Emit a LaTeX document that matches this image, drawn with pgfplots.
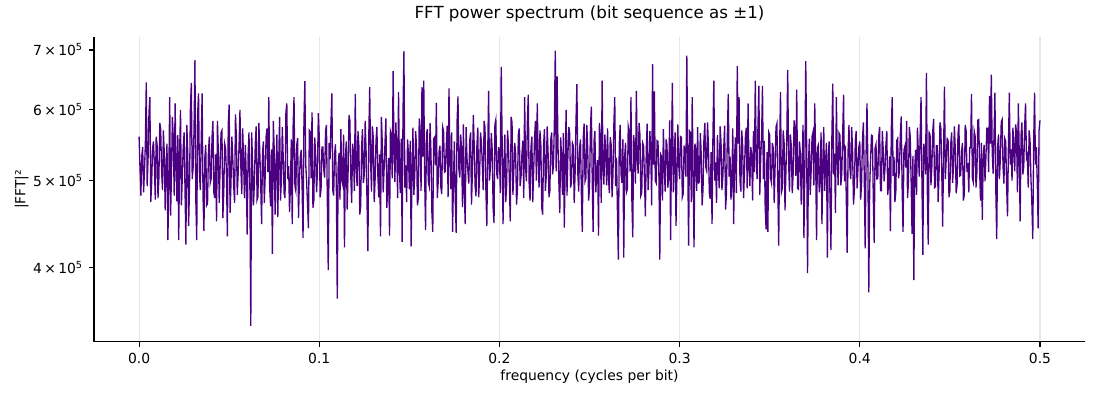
\documentclass[border=0pt]{standalone}
\usepackage{pgfplots}
\usepackage{pgfplotstable}
\pgfplotsset{compat=1.18}
\usepackage{fontspec}
\setmainfont{DejaVu Sans}
\definecolor{indigo}{HTML}{4B0082}
\definecolor{gridc}{HTML}{E6E6E6}
% |FFT|^2 in thousands, one value per bin (frequency = index/2000)
\pgfplotstableread[row sep=\\]{
p\\
560\\ 517\\ 481\\ 533\\ 545\\ 485\\ 512\\ 551\\ 644\\ 493\\ 530\\ 596\\ 620\\ 473\\ 498\\ 544\\ 553\\ 520\\ 476\\ 560\\
548\\ 478\\ 503\\ 580\\ 571\\ 512\\ 488\\ 569\\ 536\\ 463\\ 519\\ 550\\ 429\\ 500\\ 620\\ 457\\ 511\\ 589\\ 557\\ 481\\
610\\ 521\\ 474\\ 562\\ 429\\ 536\\ 600\\ 469\\ 505\\ 545\\ 566\\ 488\\ 424\\ 577\\ 539\\ 445\\ 492\\ 602\\ 643\\ 502\\
517\\ 569\\ 682\\ 475\\ 429\\ 593\\ 626\\ 508\\ 488\\ 556\\ 626\\ 479\\ 439\\ 530\\ 548\\ 469\\ 471\\ 538\\ 560\\ 497\\
502\\ 559\\ 583\\ 485\\ 478\\ 535\\ 450\\ 583\\ 537\\ 472\\ 519\\ 566\\ 569\\ 454\\ 485\\ 550\\ 544\\ 509\\ 433\\ 578\\
608\\ 460\\ 495\\ 560\\ 530\\ 494\\ 472\\ 593\\ 561\\ 482\\ 509\\ 547\\ 600\\ 517\\ 483\\ 572\\ 527\\ 478\\ 548\\ 506\\
435\\ 533\\ 566\\ 494\\ 344\\ 566\\ 521\\ 469\\ 497\\ 550\\ 575\\ 476\\ 480\\ 580\\ 538\\ 497\\ 447\\ 536\\ 553\\ 472\\
506\\ 560\\ 572\\ 511\\ 620\\ 490\\ 468\\ 542\\ 414\\ 583\\ 542\\ 458\\ 515\\ 563\\ 455\\ 524\\ 589\\ 475\\ 501\\ 574\\
532\\ 484\\ 478\\ 596\\ 610\\ 502\\ 519\\ 461\\ 493\\ 556\\ 447\\ 575\\ 620\\ 493\\ 487\\ 548\\ 558\\ 454\\ 502\\ 532\\
541\\ 490\\ 431\\ 580\\ 646\\ 521\\ 498\\ 470\\ 442\\ 569\\ 567\\ 503\\ 596\\ 466\\ 475\\ 559\\ 533\\ 485\\ 512\\ 595\\
560\\ 479\\ 489\\ 545\\ 545\\ 514\\ 504\\ 568\\ 577\\ 472\\ 397\\ 551\\ 528\\ 580\\ 626\\ 488\\ 481\\ 535\\ 549\\ 493\\
369\\ 520\\ 537\\ 476\\ 571\\ 500\\ 495\\ 563\\ 421\\ 529\\ 553\\ 464\\ 510\\ 592\\ 584\\ 506\\ 472\\ 550\\ 536\\ 487\\
625\\ 515\\ 493\\ 568\\ 547\\ 458\\ 468\\ 544\\ 571\\ 497\\ 508\\ 583\\ 539\\ 475\\ 417\\ 562\\ 636\\ 526\\ 486\\ 575\\
558\\ 473\\ 501\\ 554\\ 574\\ 508\\ 479\\ 535\\ 433\\ 589\\ 549\\ 485\\ 515\\ 551\\ 587\\ 466\\ 492\\ 530\\ 434\\ 568\\
563\\ 503\\ 663\\ 541\\ 498\\ 581\\ 541\\ 478\\ 628\\ 514\\ 484\\ 557\\ 427\\ 598\\ 698\\ 491\\ 520\\ 473\\ 556\\ 536\\
489\\ 554\\ 422\\ 515\\ 573\\ 482\\ 506\\ 568\\ 545\\ 469\\ 478\\ 587\\ 562\\ 487\\ 636\\ 532\\ 647\\ 505\\ 440\\ 563\\
571\\ 499\\ 493\\ 580\\ 538\\ 461\\ 438\\ 557\\ 559\\ 520\\ 611\\ 478\\ 497\\ 539\\ 547\\ 491\\ 483\\ 574\\ 568\\ 511\\
512\\ 547\\ 576\\ 479\\ 634\\ 530\\ 489\\ 566\\ 438\\ 502\\ 553\\ 475\\ 437\\ 583\\ 621\\ 515\\ 504\\ 563\\ 541\\ 467\\
578\\ 488\\ 447\\ 574\\ 530\\ 512\\ 496\\ 554\\ 566\\ 470\\ 511\\ 592\\ 549\\ 493\\ 480\\ 547\\ 573\\ 479\\ 507\\ 566\\
552\\ 521\\ 488\\ 583\\ 574\\ 487\\ 445\\ 536\\ 630\\ 500\\ 518\\ 565\\ 541\\ 466\\ 448\\ 578\\ 585\\ 509\\ 502\\ 545\\
537\\ 484\\ 670\\ 556\\ 447\\ 520\\ 563\\ 473\\ 494\\ 569\\ 548\\ 502\\ 450\\ 589\\ 581\\ 482\\ 515\\ 551\\ 536\\ 470\\
489\\ 563\\ 572\\ 493\\ 505\\ 536\\ 554\\ 478\\ 620\\ 517\\ 499\\ 581\\ 624\\ 496\\ 475\\ 545\\ 560\\ 473\\ 512\\ 559\\
583\\ 500\\ 610\\ 529\\ 491\\ 569\\ 547\\ 466\\ 458\\ 548\\ 571\\ 487\\ 506\\ 575\\ 538\\ 479\\ 487\\ 556\\ 566\\ 508\\
520\\ 581\\ 699\\ 512\\ 654\\ 547\\ 497\\ 460\\ 559\\ 530\\ 482\\ 565\\ 443\\ 517\\ 600\\ 481\\ 532\\ 574\\ 565\\ 491\\
498\\ 551\\ 547\\ 472\\ 509\\ 583\\ 641\\ 509\\ 486\\ 544\\ 556\\ 482\\ 438\\ 557\\ 579\\ 499\\ 503\\ 577\\ 544\\ 475\\
491\\ 569\\ 605\\ 503\\ 438\\ 553\\ 568\\ 485\\ 512\\ 527\\ 434\\ 580\\ 560\\ 472\\ 647\\ 515\\ 495\\ 563\\ 538\\ 494\\
572\\ 505\\ 484\\ 559\\ 549\\ 479\\ 506\\ 577\\ 620\\ 493\\ 530\\ 461\\ 408\\ 548\\ 577\\ 508\\ 497\\ 556\\ 410\\ 532\\
551\\ 485\\ 489\\ 575\\ 568\\ 512\\ 620\\ 476\\ 432\\ 562\\ 543\\ 496\\ 630\\ 529\\ 509\\ 580\\ 562\\ 481\\ 485\\ 551\\
547\\ 502\\ 456\\ 542\\ 579\\ 488\\ 513\\ 568\\ 538\\ 469\\ 675\\ 521\\ 629\\ 500\\ 497\\ 554\\ 553\\ 508\\ 408\\ 535\\
532\\ 475\\ 571\\ 514\\ 486\\ 556\\ 548\\ 491\\ 510\\ 584\\ 429\\ 541\\ 643\\ 485\\ 525\\ 566\\ 445\\ 503\\ 578\\ 521\\
502\\ 560\\ 559\\ 479\\ 483\\ 547\\ 537\\ 505\\ 690\\ 530\\ 423\\ 568\\ 566\\ 473\\ 620\\ 509\\ 421\\ 550\\ 541\\ 487\\
574\\ 497\\ 498\\ 565\\ 535\\ 469\\ 489\\ 556\\ 580\\ 518\\ 513\\ 581\\ 547\\ 484\\ 477\\ 538\\ 447\\ 562\\ 647\\ 500\\
524\\ 472\\ 562\\ 517\\ 490\\ 575\\ 551\\ 488\\ 505\\ 544\\ 576\\ 464\\ 483\\ 562\\ 625\\ 505\\ 532\\ 476\\ 498\\ 572\\
447\\ 532\\ 559\\ 484\\ 672\\ 550\\ 620\\ 500\\ 486\\ 569\\ 547\\ 478\\ 511\\ 559\\ 573\\ 490\\ 610\\ 518\\ 493\\ 545\\
535\\ 475\\ 568\\ 511\\ 647\\ 535\\ 502\\ 578\\ 638\\ 482\\ 529\\ 560\\ 638\\ 502\\ 554\\ 466\\ 441\\ 538\\ 438\\ 566\\
562\\ 503\\ 497\\ 551\\ 543\\ 472\\ 518\\ 574\\ 579\\ 494\\ 423\\ 542\\ 628\\ 485\\ 490\\ 569\\ 551\\ 463\\ 512\\ 559\\
665\\ 523\\ 486\\ 563\\ 546\\ 484\\ 508\\ 584\\ 571\\ 506\\ 632\\ 490\\ 489\\ 553\\ 537\\ 470\\ 520\\ 577\\ 431\\ 515\\
680\\ 550\\ 394\\ 521\\ 557\\ 482\\ 512\\ 560\\ 566\\ 494\\ 610\\ 533\\ 429\\ 544\\ 548\\ 485\\ 501\\ 566\\ 447\\ 526\\
574\\ 487\\ 523\\ 551\\ 410\\ 533\\ 553\\ 472\\ 418\\ 557\\ 642\\ 508\\ 536\\ 460\\ 620\\ 530\\ 494\\ 565\\ 562\\ 494\\
509\\ 562\\ 624\\ 499\\ 547\\ 479\\ 415\\ 539\\ 577\\ 517\\ 502\\ 574\\ 540\\ 470\\ 488\\ 553\\ 568\\ 490\\ 516\\ 545\\
553\\ 476\\ 497\\ 556\\ 581\\ 503\\ 420\\ 536\\ 610\\ 520\\ 375\\ 493\\ 529\\ 562\\ 561\\ 478\\ 426\\ 544\\ 549\\ 502\\
503\\ 560\\ 574\\ 487\\ 487\\ 568\\ 542\\ 499\\ 516\\ 548\\ 568\\ 482\\ 495\\ 532\\ 439\\ 571\\ 620\\ 506\\ 531\\ 473\\
486\\ 554\\ 557\\ 503\\ 512\\ 562\\ 590\\ 491\\ 438\\ 541\\ 546\\ 517\\ 583\\ 478\\ 497\\ 574\\ 560\\ 500\\ 436\\ 533\\
387\\ 517\\ 541\\ 482\\ 573\\ 538\\ 505\\ 562\\ 620\\ 499\\ 413\\ 550\\ 540\\ 508\\ 660\\ 485\\ 424\\ 566\\ 563\\ 494\\
518\\ 568\\ 586\\ 491\\ 492\\ 547\\ 547\\ 473\\ 509\\ 581\\ 572\\ 511\\ 444\\ 535\\ 637\\ 502\\ 530\\ 557\\ 555\\ 479\\
487\\ 550\\ 566\\ 497\\ 518\\ 575\\ 543\\ 484\\ 495\\ 563\\ 578\\ 506\\ 507\\ 539\\ 551\\ 475\\ 482\\ 577\\ 569\\ 511\\
523\\ 485\\ 544\\ 544\\ 625\\ 503\\ 498\\ 568\\ 561\\ 491\\ 510\\ 584\\ 585\\ 515\\ 475\\ 551\\ 452\\ 533\\ 548\\ 499\\
531\\ 572\\ 572\\ 511\\ 622\\ 550\\ 657\\ 538\\ 509\\ 562\\ 627\\ 488\\ 430\\ 545\\ 563\\ 502\\ 528\\ 581\\ 585\\ 518\\
496\\ 557\\ 553\\ 493\\ 456\\ 547\\ 627\\ 521\\ 542\\ 500\\ 573\\ 542\\ 512\\ 578\\ 566\\ 485\\ 610\\ 535\\ 450\\ 562\\
581\\ 508\\ 518\\ 574\\ 610\\ 530\\ 534\\ 491\\ 569\\ 554\\ 502\\ 472\\ 430\\ 550\\ 627\\ 521\\ 545\\ 499\\ 442\\ 569\\
584\\
}\fftdata
\begin{document}
\begin{tikzpicture}
\useasboundingbox (-67.7pt,-41.8pt) rectangle (724.3pt,246.2pt);
\begin{axis}[
  at={(0,0)}, anchor=south west,
  scale only axis,
  width=713.5pt, height=219.6pt,
  xmin=-0.025, xmax=0.525,
  ymode=log,
  ymin=330, ymax=724,
  axis x line*=bottom, axis y line*=left,
  axis line style={line width=0.8pt},
  tick align=outside,
  major tick length=3.5pt,
  tick style={line width=0.8pt, black},
  xtick={0,0.1,0.2,0.3,0.4,0.5},
  xticklabels={0.0,0.1,0.2,0.3,0.4,0.5},
  ytick={400,500,600,700},
  yticklabels={4\,×\,10\textsuperscript{5},5\,×\,10\textsuperscript{5},6\,×\,10\textsuperscript{5},7\,×\,10\textsuperscript{5}},
  minor ytick={},
  xmajorgrids=true,
  major grid style={gridc, line width=0.8pt},
  tick label style={font=\fontsize{10}{12}\selectfont},
  xticklabel style={yshift=-1pt},
  yticklabel style={xshift=-1pt},
  title={FFT power spectrum (bit sequence as ±1)},
  title style={font=\fontsize{12}{14}\selectfont, at={(axis description cs:0.5,1)}, yshift=10.3pt, anchor=center},
  xlabel={frequency (cycles per bit)},
  ylabel={|FFT|²},
  every axis x label/.style={at={(axis description cs:0.5,0)}, yshift=-25.2pt, anchor=center, font=\fontsize{10}{12}\selectfont},
  every axis y label/.style={at={(axis description cs:0,0.5)}, xshift=-52pt, anchor=center, rotate=90, font=\fontsize{10}{12}\selectfont},
]
\addplot[indigo, line width=0.95pt, mark=none] table[x expr=\coordindex/2000, y=p] {\fftdata};
\end{axis}
\end{tikzpicture}
\end{document}
